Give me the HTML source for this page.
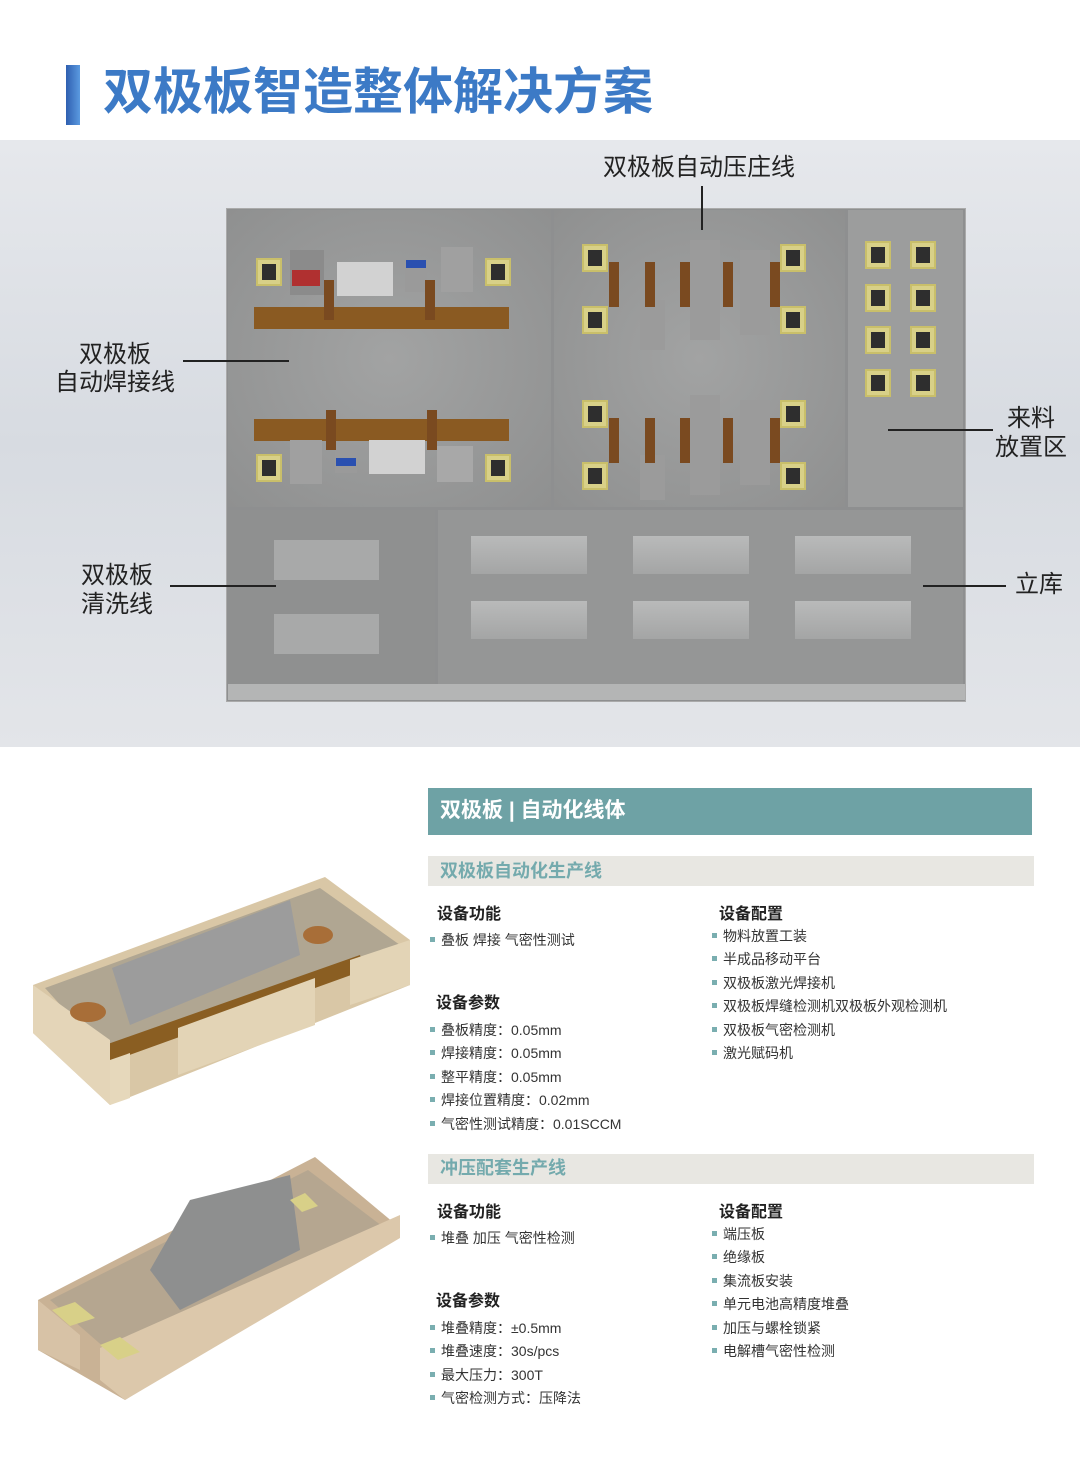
<!DOCTYPE html>
<html><head><meta charset="utf-8"><style>
*{margin:0;padding:0;box-sizing:border-box}
body{width:1080px;height:1466px;background:#fff;position:relative;overflow:hidden;font-family:"Liberation Sans","Noto Sans CJK SC",sans-serif;color:#222}
.a{position:absolute}
.lbl{position:absolute;font-size:24px;line-height:30px;color:#222}
.ln{position:absolute;background:#222}
.yb{position:absolute;width:26px;height:28px;background:#d8d088;border:2px solid #c9bf6a}
.yb::after{content:"";position:absolute;left:4px;top:4px;right:4px;bottom:4px;background:#2e2e2e}
.m{position:absolute;background:#a9aaaa}
.bar{position:absolute;background:#8a5a22;height:22px}
.rb{position:absolute;width:10px;height:40px;background:#7a4a20}
.st{position:absolute;width:116px;height:38px;background:linear-gradient(#b9baba,#a4a5a5);}
.t{position:absolute;font-size:14px;line-height:23.4px;color:#333}
.t div::before{content:"";display:inline-block;width:5px;height:5px;background:#7aaeb0;margin:0 6px 3px 0}
.h{position:absolute;font-size:16px;font-weight:bold;color:#222}
</style></head><body>
<div class="a" style="left:66px;top:65px;width:14px;height:60px;background:linear-gradient(90deg,#2f5fb0,#5b9ae0)"></div>
<div class="a" style="left:103px;top:59px;font-size:50px;font-weight:bold;color:#3c7ac6;line-height:66px">双极板智造整体解决方案</div>

<div class="a" style="left:0;top:140px;width:1080px;height:607px;background:linear-gradient(180deg,#e6e8ec,#d7dbe1 50%,#e3e5e9)"></div>
<div class="a" style="left:226px;top:208px;width:740px;height:494px;background:#8e8f90;border:1px solid #aaa"></div>
<div class="a" style="left:228px;top:210px;width:323px;height:297px;background:radial-gradient(ellipse at 50% 50%,#a2a3a3,#8f9090)"></div>
<div class="a" style="left:554px;top:210px;width:291px;height:297px;background:radial-gradient(ellipse at 50% 50%,#a2a3a3,#8f9090)"></div>
<div class="a" style="left:848px;top:210px;width:115px;height:297px;background:#9c9d9d"></div>
<div class="a" style="left:228px;top:510px;width:207px;height:174px;background:#8f9090"></div>
<div class="a" style="left:438px;top:510px;width:525px;height:174px;background:#959696"></div>
<div class="a" style="left:228px;top:684px;width:737px;height:16px;background:#b4b5b5"></div>

<!-- welding -->
<div class="bar" style="left:254px;top:307px;width:255px"></div>
<div class="bar" style="left:254px;top:419px;width:255px"></div>
<div class="m" style="left:290px;top:250px;width:34px;height:45px;background:#8b8b8b"></div>
<div class="m" style="left:292px;top:270px;width:28px;height:16px;background:#b03030"></div>
<div class="m" style="left:337px;top:262px;width:56px;height:34px;background:#d2d2d2"></div>
<div class="m" style="left:405px;top:262px;width:22px;height:30px;background:#9a9a9a"></div>
<div class="m" style="left:406px;top:260px;width:20px;height:8px;background:#2a50b0"></div>
<div class="m" style="left:441px;top:247px;width:32px;height:45px;background:#a0a0a0"></div>
<div class="m" style="left:290px;top:440px;width:32px;height:44px;background:#a0a0a0"></div>
<div class="m" style="left:335px;top:445px;width:22px;height:28px;background:#9a9a9a"></div>
<div class="m" style="left:336px;top:458px;width:20px;height:8px;background:#2a50b0"></div>
<div class="m" style="left:369px;top:440px;width:56px;height:34px;background:#d2d2d2"></div>
<div class="m" style="left:437px;top:446px;width:36px;height:36px;background:#a8a8a8"></div>
<div class="rb" style="left:324px;top:280px"></div><div class="rb" style="left:425px;top:280px"></div>
<div class="rb" style="left:326px;top:410px"></div><div class="rb" style="left:427px;top:410px"></div>
<div class="yb" style="left:256px;top:258px"></div><div class="yb" style="left:485px;top:258px"></div>
<div class="yb" style="left:256px;top:454px"></div><div class="yb" style="left:485px;top:454px"></div>

<!-- press -->
<div class="m" style="left:690px;top:240px;width:30px;height:100px;background:#9b9b9b"></div>
<div class="m" style="left:740px;top:250px;width:30px;height:85px;background:#9b9b9b"></div>
<div class="m" style="left:640px;top:300px;width:25px;height:50px;background:#9b9b9b"></div>
<div class="m" style="left:690px;top:395px;width:30px;height:100px;background:#9b9b9b"></div>
<div class="m" style="left:740px;top:400px;width:30px;height:85px;background:#9b9b9b"></div>
<div class="m" style="left:640px;top:455px;width:25px;height:45px;background:#9b9b9b"></div>
<div class="rb" style="left:609px;top:262px;height:45px"></div><div class="rb" style="left:645px;top:262px;height:45px"></div><div class="rb" style="left:680px;top:262px;height:45px"></div><div class="rb" style="left:723px;top:262px;height:45px"></div><div class="rb" style="left:770px;top:262px;height:45px"></div>
<div class="rb" style="left:609px;top:418px;height:45px"></div><div class="rb" style="left:645px;top:418px;height:45px"></div><div class="rb" style="left:680px;top:418px;height:45px"></div><div class="rb" style="left:723px;top:418px;height:45px"></div><div class="rb" style="left:770px;top:418px;height:45px"></div>
<div class="yb" style="left:582px;top:244px"></div><div class="yb" style="left:780px;top:244px"></div>
<div class="yb" style="left:582px;top:306px"></div><div class="yb" style="left:780px;top:306px"></div>
<div class="yb" style="left:582px;top:400px"></div><div class="yb" style="left:780px;top:400px"></div>
<div class="yb" style="left:582px;top:462px"></div><div class="yb" style="left:780px;top:462px"></div>

<!-- material -->
<div class="yb" style="left:865px;top:241px"></div><div class="yb" style="left:910px;top:241px"></div>
<div class="yb" style="left:865px;top:284px"></div><div class="yb" style="left:910px;top:284px"></div>
<div class="yb" style="left:865px;top:326px"></div><div class="yb" style="left:910px;top:326px"></div>
<div class="yb" style="left:865px;top:369px"></div><div class="yb" style="left:910px;top:369px"></div>

<!-- cleaning -->
<div class="m" style="left:274px;top:540px;width:105px;height:40px;background:#a8a9a9"></div>
<div class="m" style="left:274px;top:614px;width:105px;height:40px;background:#a8a9a9"></div>
<!-- storage -->
<div class="st" style="left:471px;top:536px"></div><div class="st" style="left:633px;top:536px"></div><div class="st" style="left:795px;top:536px"></div>
<div class="st" style="left:471px;top:601px"></div><div class="st" style="left:633px;top:601px"></div><div class="st" style="left:795px;top:601px"></div>

<!-- labels -->
<div class="lbl" style="left:603px;top:153px">双极板自动压庄线</div>
<div class="ln" style="left:701px;top:186px;width:2px;height:44px"></div>
<div class="lbl" style="left:79px;top:340px">双极板</div>
<div class="lbl" style="left:55px;top:368px">自动焊接线</div>
<div class="ln" style="left:183px;top:360px;width:106px;height:2px"></div>
<div class="lbl" style="left:81px;top:561px">双极板</div>
<div class="lbl" style="left:81px;top:590px">清洗线</div>
<div class="ln" style="left:170px;top:585px;width:106px;height:2px"></div>
<div class="lbl" style="left:1007px;top:404px">来料</div>
<div class="lbl" style="left:995px;top:433px">放置区</div>
<div class="ln" style="left:888px;top:429px;width:105px;height:2px"></div>
<div class="lbl" style="left:1015px;top:570px">立库</div>
<div class="ln" style="left:923px;top:585px;width:83px;height:2px"></div>

<!-- 3D rooms -->
<svg class="a" style="left:0;top:860px" width="420" height="570" viewBox="0 860 420 570">
<polygon points="33,985 325,877 410,940 410,985 110,1105 33,1033" fill="#d9c7a6"/>
<polygon points="45,988 320,888 400,945 110,1060" fill="#b0a692"/>
<polygon points="112,968 290,900 300,955 130,1025" fill="#9c9c9c"/>
<polygon points="105,1045 360,955 365,970 110,1062" fill="#8a5e22"/>
<polygon points="33,985 110,1040 110,1105 33,1033" fill="#e4d5b8"/>
<polygon points="110,1060 130,1053 130,1098 110,1105" fill="#e6d8bb"/>
<polygon points="178,1028 315,978 315,1025 178,1075" fill="#e3d4b6"/>
<polygon points="350,960 410,940 410,985 350,1005" fill="#e3d4b6"/>
<ellipse cx="88" cy="1012" rx="18" ry="10" fill="#a86e38"/>
<ellipse cx="318" cy="935" rx="15" ry="9" fill="#a86e38"/>
<polygon points="38,1300 315,1157 400,1228 125,1400 38,1350" fill="#c9b295"/>
<polygon points="50,1300 308,1170 390,1232 130,1370" fill="#b5a690"/>
<polygon points="150,1270 190,1200 290,1175 300,1250 180,1310" fill="#8e8f8f"/>
<polygon points="38,1300 80,1335 80,1370 38,1350" fill="#d7c2a6"/>
<polygon points="100,1348 400,1215 400,1238 125,1400 100,1380" fill="#dcc8ab"/>
<polygon points="52,1310 75,1302 95,1318 70,1326" fill="#d8d088"/>
<polygon points="290,1200 305,1193 318,1206 302,1212" fill="#d8d088"/>
<polygon points="100,1345 120,1337 140,1352 118,1360" fill="#d8d088"/>
</svg>

<!-- right text -->
<div class="a" style="left:428px;top:788px;width:604px;height:47px;background:#6ea2a5"></div>
<div class="a" style="left:440px;top:797px;font-size:21px;font-weight:bold;color:#fff;line-height:28px">双极板 | 自动化线体</div>
<div class="a" style="left:428px;top:856px;width:606px;height:30px;background:#e8e7e2"></div>
<div class="a" style="left:440px;top:859px;font-size:18px;font-weight:bold;color:#74aaad;line-height:24px">双极板自动化生产线</div>
<div class="h" style="left:437px;top:900px">设备功能</div>
<div class="t" style="left:430px;top:929px"><div>叠板 焊接 气密性测试</div></div>
<div class="h" style="left:436px;top:989px">设备参数</div>
<div class="t" style="left:430px;top:1019px"><div>叠板精度：0.05mm</div><div>焊接精度：0.05mm</div><div>整平精度：0.05mm</div><div>焊接位置精度：0.02mm</div><div>气密性测试精度：0.01SCCM</div></div>
<div class="h" style="left:719px;top:900px">设备配置</div>
<div class="t" style="left:712px;top:925px"><div>物料放置工装</div><div>半成品移动平台</div><div>双极板激光焊接机</div><div>双极板焊缝检测机双极板外观检测机</div><div>双极板气密检测机</div><div>激光赋码机</div></div>

<div class="a" style="left:428px;top:1154px;width:606px;height:30px;background:#e8e7e2"></div>
<div class="a" style="left:440px;top:1156px;font-size:18px;font-weight:bold;color:#74aaad;line-height:24px">冲压配套生产线</div>
<div class="h" style="left:437px;top:1198px">设备功能</div>
<div class="t" style="left:430px;top:1227px"><div>堆叠 加压 气密性检测</div></div>
<div class="h" style="left:436px;top:1287px">设备参数</div>
<div class="t" style="left:430px;top:1317px"><div>堆叠精度：±0.5mm</div><div>堆叠速度：30s/pcs</div><div>最大压力：300T</div><div>气密检测方式：压降法</div></div>
<div class="h" style="left:719px;top:1198px">设备配置</div>
<div class="t" style="left:712px;top:1223px"><div>端压板</div><div>绝缘板</div><div>集流板安装</div><div>单元电池高精度堆叠</div><div>加压与螺栓锁紧</div><div>电解槽气密性检测</div></div>
</body></html>
